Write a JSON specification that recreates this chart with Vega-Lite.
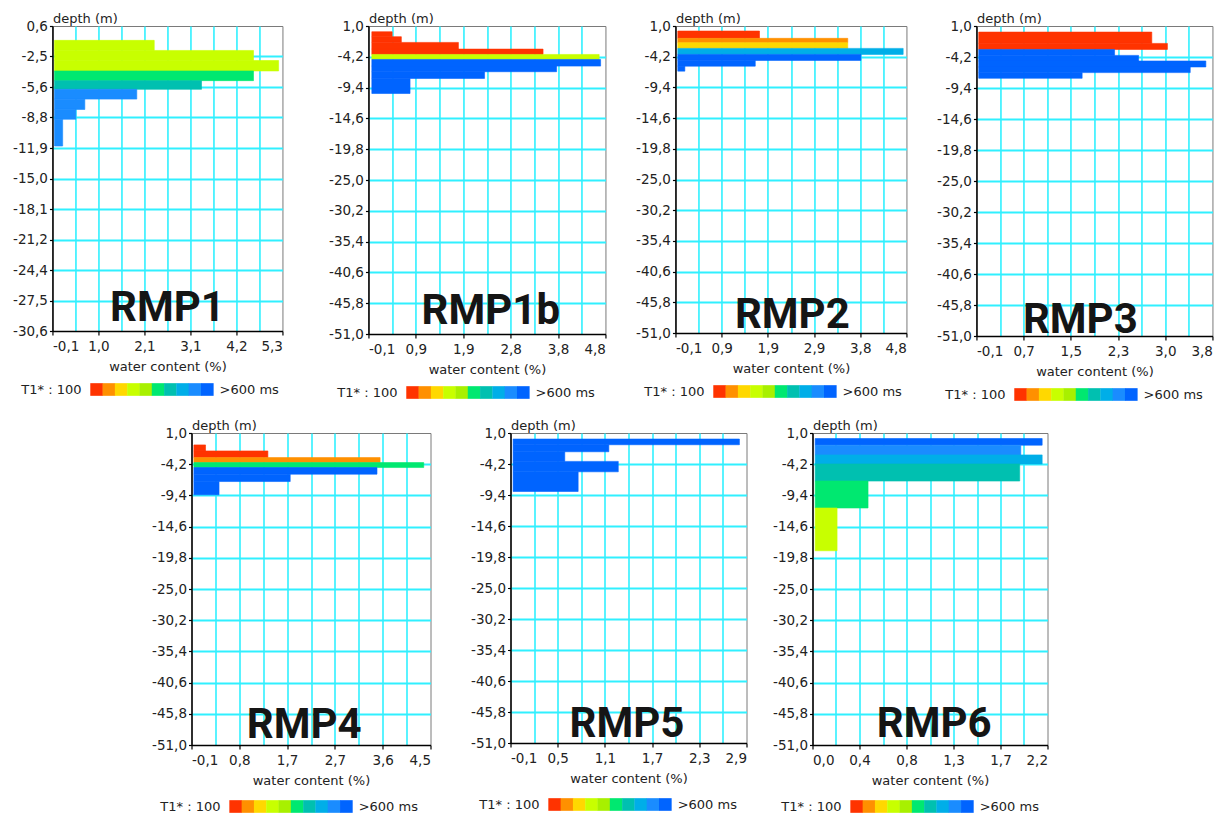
{
  "$schema": "https://vega.github.io/schema/vega-lite/v6.json",
  "padding": {"left": 12, "top": 11, "right": 0, "bottom": 0},
  "background": "white",
  "config": {
    "view": {"stroke": "#7a7a7a", "strokeWidth": 1},
    "axis": {
      "labelFont": "DejaVu Sans", "labelFontSize": 13.5, "labelColor": "#222",
      "titleFont": "DejaVu Sans", "titleFontSize": 13, "titleFontWeight": "normal", "titleColor": "#222",
      "domainColor": "#000", "domainWidth": 1.5, "tickColor": "#000", "tickWidth": 1.2,
      "gridColor": "#30f0ff", "gridOpacity": 1, "labelOverlap": false, "labelBound": false
    },
    "axisX": {"tickSize": 4, "labelPadding": 4, "titlePadding": 8, "gridWidth": 1.6},
    "axisY": {"tickSize": 3, "labelPadding": 2, "gridWidth": 2, "titleAngle": 0, "titleAlign": "left", "titleX": 0, "titleY": -4, "titleBaseline": "alphabetic"}
  },
  "datasets": {
    "bars": [
      {"p": "RMP1", "top": -0.87, "bot": -1.90, "v": 2.29, "c": 4},
      {"p": "RMP1", "top": -1.90, "bot": -2.93, "v": 4.62, "c": 4},
      {"p": "RMP1", "top": -2.93, "bot": -4.00, "v": 5.21, "c": 4},
      {"p": "RMP1", "top": -4.00, "bot": -4.99, "v": 4.62, "c": 6},
      {"p": "RMP1", "top": -4.99, "bot": -5.88, "v": 3.40, "c": 7},
      {"p": "RMP1", "top": -5.88, "bot": -6.88, "v": 1.88, "c": 9},
      {"p": "RMP1", "top": -6.88, "bot": -7.94, "v": 0.66, "c": 9},
      {"p": "RMP1", "top": -7.94, "bot": -8.94, "v": 0.45, "c": 9},
      {"p": "RMP1", "top": -8.94, "bot": -11.68, "v": 0.14, "c": 9},
      {"p": "RMP1b", "top": 0.03, "bot": -0.81, "v": 0.39, "c": 1},
      {"p": "RMP1b", "top": -0.81, "bot": -1.77, "v": 0.58, "c": 1},
      {"p": "RMP1b", "top": -1.77, "bot": -2.90, "v": 1.76, "c": 1},
      {"p": "RMP1b", "top": -2.90, "bot": -3.80, "v": 3.51, "c": 1},
      {"p": "RMP1b", "top": -3.80, "bot": -4.65, "v": 4.67, "c": 4},
      {"p": "RMP1b", "top": -4.65, "bot": -5.77, "v": 4.70, "c": 10},
      {"p": "RMP1b", "top": -5.77, "bot": -6.72, "v": 3.79, "c": 10},
      {"p": "RMP1b", "top": -6.72, "bot": -7.85, "v": 2.30, "c": 10},
      {"p": "RMP1b", "top": -7.85, "bot": -10.40, "v": 0.76, "c": 10},
      {"p": "RMP2", "top": 0.15, "bot": -1.09, "v": 1.69, "c": 1},
      {"p": "RMP2", "top": -1.09, "bot": -1.82, "v": 3.57, "c": 2},
      {"p": "RMP2", "top": -1.82, "bot": -2.79, "v": 3.57, "c": 3},
      {"p": "RMP2", "top": -2.79, "bot": -3.81, "v": 4.75, "c": 8},
      {"p": "RMP2", "top": -3.81, "bot": -4.83, "v": 3.85, "c": 10},
      {"p": "RMP2", "top": -4.83, "bot": -5.80, "v": 1.60, "c": 10},
      {"p": "RMP2", "top": -5.80, "bot": -6.65, "v": 0.10, "c": 10},
      {"p": "RMP3", "top": -0.02, "bot": -1.92, "v": 2.82, "c": 1},
      {"p": "RMP3", "top": -1.92, "bot": -2.93, "v": 3.08, "c": 1},
      {"p": "RMP3", "top": -2.93, "bot": -3.93, "v": 2.20, "c": 10},
      {"p": "RMP3", "top": -3.93, "bot": -4.87, "v": 2.60, "c": 10},
      {"p": "RMP3", "top": -4.87, "bot": -5.87, "v": 3.72, "c": 10},
      {"p": "RMP3", "top": -5.87, "bot": -6.82, "v": 3.46, "c": 10},
      {"p": "RMP3", "top": -6.82, "bot": -7.77, "v": 1.66, "c": 10},
      {"p": "RMP4", "top": -0.99, "bot": -1.99, "v": 0.17, "c": 1},
      {"p": "RMP4", "top": -1.99, "bot": -3.10, "v": 1.37, "c": 1},
      {"p": "RMP4", "top": -3.10, "bot": -3.93, "v": 3.53, "c": 2},
      {"p": "RMP4", "top": -3.93, "bot": -4.76, "v": 4.37, "c": 6},
      {"p": "RMP4", "top": -4.76, "bot": -5.86, "v": 3.47, "c": 10},
      {"p": "RMP4", "top": -5.86, "bot": -7.09, "v": 1.80, "c": 10},
      {"p": "RMP4", "top": -7.09, "bot": -9.30, "v": 0.43, "c": 10},
      {"p": "RMP5", "top": -0.01, "bot": -0.97, "v": 2.81, "c": 10},
      {"p": "RMP5", "top": -0.97, "bot": -2.15, "v": 1.15, "c": 10},
      {"p": "RMP5", "top": -2.15, "bot": -3.76, "v": 0.59, "c": 10},
      {"p": "RMP5", "top": -3.76, "bot": -5.51, "v": 1.27, "c": 10},
      {"p": "RMP5", "top": -5.51, "bot": -8.81, "v": 0.76, "c": 10},
      {"p": "RMP6", "top": 0.08, "bot": -1.03, "v": 2.15, "c": 10},
      {"p": "RMP6", "top": -1.03, "bot": -2.65, "v": 1.95, "c": 9},
      {"p": "RMP6", "top": -2.65, "bot": -4.16, "v": 2.15, "c": 8},
      {"p": "RMP6", "top": -4.16, "bot": -7.01, "v": 1.94, "c": 7},
      {"p": "RMP6", "top": -7.01, "bot": -11.50, "v": 0.52, "c": 6},
      {"p": "RMP6", "top": -11.50, "bot": -18.63, "v": 0.23, "c": 4}
    ],
    "names": [{"p": "RMP1"}, {"p": "RMP1b"}, {"p": "RMP2"}, {"p": "RMP3"}, {"p": "RMP4"}, {"p": "RMP5"}, {"p": "RMP6"}],
    "swatch": [{"c": 1}, {"c": 2}, {"c": 3}, {"c": 4}, {"c": 5}, {"c": 6}, {"c": 7}, {"c": 8}, {"c": 9}, {"c": 10}],
    "keytext": [{"side": "l", "t": "T1* : 100"}, {"side": "r", "t": ">600 ms"}]
  },
  "vconcat": [
    {
      "spacing": 43,
      "hconcat": [
        {
          "bounds": "flush", "spacing": 52,
          "vconcat": [
            {
              "width": 230, "height": 305,
              "layer": [
                {
                  "data": {"name": "bars"},
                  "transform": [{"filter": "datum.p == 'RMP1'"}],
                  "mark": {"type": "rect", "strokeWidth": 0.6},
                  "encoding": {
                    "x": {"field": "v", "type": "quantitative", "scale": {"domain": [-0.1, 5.3], "nice": false, "zero": false},
                      "axis": {"title": "water content (%)", "tickCount": 30, "values": [-0.1, 0.44, 0.98, 1.52, 2.06, 2.6, 3.14, 3.68, 4.22, 4.76, 5.3],
                        "labelExpr": "['-0,1','','1,0','','2,1','','3,1','','4,2','','5,3'][indexof([-0.1,0.44,0.98,1.52,2.06,2.6,3.14,3.68,4.22,4.76,5.3], datum.value)]",
                        "tickOpacity": {"condition": {"test": "indexof([-0.1,0.98,2.06,3.14,4.22,5.3], datum.value) < 0", "value": 0}, "value": 1},
                        "gridColor": {"condition": {"test": "datum.value == -0.1 || datum.value == 5.3", "value": "transparent"}, "value": "#30f0ff"}}},
                    "x2": {"datum": -0.053},
                    "y": {"field": "top", "type": "quantitative", "scale": {"domain": [-30.6, 0.6], "nice": false, "zero": false},
                      "axis": {"title": "depth (m)", "tickCount": 30, "values": [0.6, -2.52, -5.64, -8.76, -11.88, -15, -18.12, -21.24, -24.36, -27.48, -30.6],
                        "labelExpr": "replace(replace(format(datum.value, '.1f'), '.', ','), '\u2212', '-')",
                        "gridColor": {"condition": {"test": "datum.value == 0.6 || datum.value == -30.6", "value": "transparent"}, "value": "#30f0ff"}}},
                    "y2": {"field": "bot"},
                    "color": {"field": "c", "type": "ordinal", "legend": null, "scale": {"domain": [1, 2, 3, 4, 5, 6, 7, 8, 9, 10], "range": ["#ff3300", "#ff9000", "#ffd800", "#c8ff00", "#a8f000", "#00e870", "#00c0b0", "#00aee8", "#1a8cff", "#0064ff"]}},
                    "stroke": {"field": "c", "type": "ordinal", "legend": null, "scale": {"domain": [1, 2, 3, 4, 5, 6, 7, 8, 9, 10], "range": ["#ff3300", "#ff9000", "#ffd800", "#c8ff00", "#a8f000", "#00e870", "#00c0b0", "#00aee8", "#1a8cff", "#0064ff"]}}
                  }
                },
                {
                  "data": {"name": "names"},
                  "transform": [{"filter": "datum.p == 'RMP1'"}],
                  "mark": {"type": "text", "font": "Roboto", "fontSize": 42, "fontWeight": "bold", "color": "#151515", "align": "center", "baseline": "alphabetic"},
                  "encoding": {"text": {"field": "p"}, "x": {"datum": 2.6}, "y": {"datum": -29.58}}
                }
              ]
            },
            {
              "width": 230, "height": 13, "view": {"stroke": null},
              "layer": [
                {"data": {"name": "swatch"}, "mark": {"type": "square", "size": 160, "opacity": 1},
                  "encoding": {"x": {"field": "c", "type": "quantitative", "scale": {"domain": [-2.59, 16.11], "nice": false, "zero": false}, "axis": null},
                    "color": {"field": "c", "type": "ordinal", "legend": null, "scale": {"domain": [1, 2, 3, 4, 5, 6, 7, 8, 9, 10], "range": ["#ff3300", "#ff9000", "#ffd800", "#c8ff00", "#a8f000", "#00e870", "#00c0b0", "#00aee8", "#1a8cff", "#0064ff"]}}}},
                {"data": {"name": "keytext"}, "transform": [{"filter": "datum.side == 'l'"}],
                  "mark": {"type": "text", "align": "right", "baseline": "middle", "font": "DejaVu Sans", "fontSize": 13, "color": "#222"},
                  "encoding": {"text": {"field": "t"}, "x": {"datum": -0.23}}},
                {"data": {"name": "keytext"}, "transform": [{"filter": "datum.side == 'r'"}],
                  "mark": {"type": "text", "align": "left", "baseline": "middle", "font": "DejaVu Sans", "fontSize": 13, "color": "#222"},
                  "encoding": {"text": {"field": "t"}, "x": {"datum": 11}}}
              ]
            }
          ]
        },
        {
          "spacing": 27,
          "hconcat": [
            {
              "bounds": "flush", "spacing": 52,
              "vconcat": [
                {
                  "width": 237, "height": 308,
                  "layer": [
                    {
                      "data": {"name": "bars"},
                      "transform": [{"filter": "datum.p == 'RMP1b'"}],
                      "mark": {"type": "rect", "strokeWidth": 0.6},
                      "encoding": {
                        "x": {"field": "v", "type": "quantitative", "scale": {"domain": [-0.1, 4.8], "nice": false, "zero": false},
                          "axis": {"title": "water content (%)", "tickCount": 30, "values": [-0.1, 0.39, 0.88, 1.37, 1.86, 2.35, 2.84, 3.33, 3.82, 4.31, 4.8],
                            "labelExpr": "['-0,1','','0,9','','1,9','','2,8','','3,8','','4,8'][indexof([-0.1,0.39,0.88,1.37,1.86,2.35,2.84,3.33,3.82,4.31,4.8], datum.value)]",
                            "tickOpacity": {"condition": {"test": "indexof([-0.1,0.88,1.86,2.84,3.82,4.8], datum.value) < 0", "value": 0}, "value": 1},
                            "gridColor": {"condition": {"test": "datum.value == -0.1 || datum.value == 4.8", "value": "transparent"}, "value": "#30f0ff"}}},
                        "x2": {"datum": -0.03},
                        "y": {"field": "top", "type": "quantitative", "scale": {"domain": [-51, 1], "nice": false, "zero": false},
                          "axis": {"title": "depth (m)", "tickCount": 30, "values": [1, -4.2, -9.4, -14.6, -19.8, -25, -30.2, -35.4, -40.6, -45.8, -51],
                            "labelExpr": "replace(replace(format(datum.value, '.1f'), '.', ','), '\u2212', '-')",
                            "gridColor": {"condition": {"test": "datum.value == 1 || datum.value == -51", "value": "transparent"}, "value": "#30f0ff"}}},
                        "y2": {"field": "bot"},
                        "color": {"field": "c", "type": "ordinal", "legend": null, "scale": {"domain": [1, 2, 3, 4, 5, 6, 7, 8, 9, 10], "range": ["#ff3300", "#ff9000", "#ffd800", "#c8ff00", "#a8f000", "#00e870", "#00c0b0", "#00aee8", "#1a8cff", "#0064ff"]}},
                        "stroke": {"field": "c", "type": "ordinal", "legend": null, "scale": {"domain": [1, 2, 3, 4, 5, 6, 7, 8, 9, 10], "range": ["#ff3300", "#ff9000", "#ffd800", "#c8ff00", "#a8f000", "#00e870", "#00c0b0", "#00aee8", "#1a8cff", "#0064ff"]}}
                      }
                    },
                    {
                      "data": {"name": "names"},
                      "transform": [{"filter": "datum.p == 'RMP1b'"}],
                      "mark": {"type": "text", "font": "Roboto", "fontSize": 42, "fontWeight": "bold", "color": "#151515", "align": "center", "baseline": "alphabetic"},
                      "encoding": {"text": {"field": "p"}, "x": {"datum": 2.43}, "y": {"datum": -49.31}}
                    }
                  ]
                },
                {
                  "width": 237, "height": 13, "view": {"stroke": null},
                  "layer": [
                    {"data": {"name": "swatch"}, "mark": {"type": "square", "size": 160, "opacity": 1},
                      "encoding": {"x": {"field": "c", "type": "quantitative", "scale": {"domain": [-2.59, 16.68], "nice": false, "zero": false}, "axis": null},
                        "color": {"field": "c", "type": "ordinal", "legend": null, "scale": {"domain": [1, 2, 3, 4, 5, 6, 7, 8, 9, 10], "range": ["#ff3300", "#ff9000", "#ffd800", "#c8ff00", "#a8f000", "#00e870", "#00c0b0", "#00aee8", "#1a8cff", "#0064ff"]}}}},
                    {"data": {"name": "keytext"}, "transform": [{"filter": "datum.side == 'l'"}],
                      "mark": {"type": "text", "align": "right", "baseline": "middle", "font": "DejaVu Sans", "fontSize": 13, "color": "#222"},
                      "encoding": {"text": {"field": "t"}, "x": {"datum": -0.23}}},
                    {"data": {"name": "keytext"}, "transform": [{"filter": "datum.side == 'r'"}],
                      "mark": {"type": "text", "align": "left", "baseline": "middle", "font": "DejaVu Sans", "fontSize": 13, "color": "#222"},
                      "encoding": {"text": {"field": "t"}, "x": {"datum": 11}}}
                  ]
                }
              ]
            },
            {
              "bounds": "flush", "spacing": 52,
              "vconcat": [
                {
                  "width": 231, "height": 307,
                  "layer": [
                    {
                      "data": {"name": "bars"},
                      "transform": [{"filter": "datum.p == 'RMP2'"}],
                      "mark": {"type": "rect", "strokeWidth": 0.6},
                      "encoding": {
                        "x": {"field": "v", "type": "quantitative", "scale": {"domain": [-0.1, 4.82], "nice": false, "zero": false},
                          "axis": {"title": "water content (%)", "tickCount": 30, "values": [-0.1, 0.392, 0.884, 1.376, 1.868, 2.36, 2.852, 3.344, 3.836, 4.328, 4.82],
                            "labelExpr": "['-0,1','','0,9','','1,9','','2,9','','3,8','','4,8'][indexof([-0.1,0.392,0.884,1.376,1.868,2.36,2.852,3.344,3.836,4.328,4.82], datum.value)]",
                            "tickOpacity": {"condition": {"test": "indexof([-0.1,0.884,1.868,2.852,3.836,4.82], datum.value) < 0", "value": 0}, "value": 1},
                            "gridColor": {"condition": {"test": "datum.value == -0.1 || datum.value == 4.82", "value": "transparent"}, "value": "#30f0ff"}}},
                        "x2": {"datum": -0.05},
                        "y": {"field": "top", "type": "quantitative", "scale": {"domain": [-51, 1], "nice": false, "zero": false},
                          "axis": {"title": "depth (m)", "tickCount": 30, "values": [1, -4.2, -9.4, -14.6, -19.8, -25, -30.2, -35.4, -40.6, -45.8, -51],
                            "labelExpr": "replace(replace(format(datum.value, '.1f'), '.', ','), '\u2212', '-')",
                            "gridColor": {"condition": {"test": "datum.value == 1 || datum.value == -51", "value": "transparent"}, "value": "#30f0ff"}}},
                        "y2": {"field": "bot"},
                        "color": {"field": "c", "type": "ordinal", "legend": null, "scale": {"domain": [1, 2, 3, 4, 5, 6, 7, 8, 9, 10], "range": ["#ff3300", "#ff9000", "#ffd800", "#c8ff00", "#a8f000", "#00e870", "#00c0b0", "#00aee8", "#1a8cff", "#0064ff"]}},
                        "stroke": {"field": "c", "type": "ordinal", "legend": null, "scale": {"domain": [1, 2, 3, 4, 5, 6, 7, 8, 9, 10], "range": ["#ff3300", "#ff9000", "#ffd800", "#c8ff00", "#a8f000", "#00e870", "#00c0b0", "#00aee8", "#1a8cff", "#0064ff"]}}
                      }
                    },
                    {
                      "data": {"name": "names"},
                      "transform": [{"filter": "datum.p == 'RMP2'"}],
                      "mark": {"type": "text", "font": "Roboto", "fontSize": 42, "fontWeight": "bold", "color": "#151515", "align": "center", "baseline": "alphabetic"},
                      "encoding": {"text": {"field": "p"}, "x": {"datum": 2.39}, "y": {"datum": -50.2}}
                    }
                  ]
                },
                {
                  "width": 231, "height": 13, "view": {"stroke": null},
                  "layer": [
                    {"data": {"name": "swatch"}, "mark": {"type": "square", "size": 160, "opacity": 1},
                      "encoding": {"x": {"field": "c", "type": "quantitative", "scale": {"domain": [-2.59, 16.19], "nice": false, "zero": false}, "axis": null},
                        "color": {"field": "c", "type": "ordinal", "legend": null, "scale": {"domain": [1, 2, 3, 4, 5, 6, 7, 8, 9, 10], "range": ["#ff3300", "#ff9000", "#ffd800", "#c8ff00", "#a8f000", "#00e870", "#00c0b0", "#00aee8", "#1a8cff", "#0064ff"]}}}},
                    {"data": {"name": "keytext"}, "transform": [{"filter": "datum.side == 'l'"}],
                      "mark": {"type": "text", "align": "right", "baseline": "middle", "font": "DejaVu Sans", "fontSize": 13, "color": "#222"},
                      "encoding": {"text": {"field": "t"}, "x": {"datum": -0.23}}},
                    {"data": {"name": "keytext"}, "transform": [{"filter": "datum.side == 'r'"}],
                      "mark": {"type": "text", "align": "left", "baseline": "middle", "font": "DejaVu Sans", "fontSize": 13, "color": "#222"},
                      "encoding": {"text": {"field": "t"}, "x": {"datum": 11}}}
                  ]
                }
              ]
            },
            {
              "bounds": "flush", "spacing": 52,
              "vconcat": [
                {
                  "width": 236, "height": 310,
                  "layer": [
                    {
                      "data": {"name": "bars"},
                      "transform": [{"filter": "datum.p == 'RMP3'"}],
                      "mark": {"type": "rect", "strokeWidth": 0.6},
                      "encoding": {
                        "x": {"field": "v", "type": "quantitative", "scale": {"domain": [-0.1, 3.83], "nice": false, "zero": false},
                          "axis": {"title": "water content (%)", "tickCount": 30, "values": [-0.1, 0.293, 0.686, 1.079, 1.472, 1.865, 2.258, 2.651, 3.044, 3.437, 3.83],
                            "labelExpr": "['-0,1','','0,7','','1,5','','2,3','','3,0','','3,8'][indexof([-0.1,0.293,0.686,1.079,1.472,1.865,2.258,2.651,3.044,3.437,3.83], datum.value)]",
                            "tickOpacity": {"condition": {"test": "indexof([-0.1,0.686,1.472,2.258,3.044,3.83], datum.value) < 0", "value": 0}, "value": 1},
                            "gridColor": {"condition": {"test": "datum.value == -0.1 || datum.value == 3.83", "value": "transparent"}, "value": "#30f0ff"}}},
                        "x2": {"datum": -0.062},
                        "y": {"field": "top", "type": "quantitative", "scale": {"domain": [-51, 1], "nice": false, "zero": false},
                          "axis": {"title": "depth (m)", "tickCount": 30, "values": [1, -4.2, -9.4, -14.6, -19.8, -25, -30.2, -35.4, -40.6, -45.8, -51],
                            "labelExpr": "replace(replace(format(datum.value, '.1f'), '.', ','), '\u2212', '-')",
                            "gridColor": {"condition": {"test": "datum.value == 1 || datum.value == -51", "value": "transparent"}, "value": "#30f0ff"}}},
                        "y2": {"field": "bot"},
                        "color": {"field": "c", "type": "ordinal", "legend": null, "scale": {"domain": [1, 2, 3, 4, 5, 6, 7, 8, 9, 10], "range": ["#ff3300", "#ff9000", "#ffd800", "#c8ff00", "#a8f000", "#00e870", "#00c0b0", "#00aee8", "#1a8cff", "#0064ff"]}},
                        "stroke": {"field": "c", "type": "ordinal", "legend": null, "scale": {"domain": [1, 2, 3, 4, 5, 6, 7, 8, 9, 10], "range": ["#ff3300", "#ff9000", "#ffd800", "#c8ff00", "#a8f000", "#00e870", "#00c0b0", "#00aee8", "#1a8cff", "#0064ff"]}}
                      }
                    },
                    {
                      "data": {"name": "names"},
                      "transform": [{"filter": "datum.p == 'RMP3'"}],
                      "mark": {"type": "text", "font": "Roboto", "fontSize": 42, "fontWeight": "bold", "color": "#151515", "align": "center", "baseline": "alphabetic"},
                      "encoding": {"text": {"field": "p"}, "x": {"datum": 1.63}, "y": {"datum": -50.56}}
                    }
                  ]
                },
                {
                  "width": 236, "height": 13, "view": {"stroke": null},
                  "layer": [
                    {"data": {"name": "swatch"}, "mark": {"type": "square", "size": 160, "opacity": 1},
                      "encoding": {"x": {"field": "c", "type": "quantitative", "scale": {"domain": [-2.59, 16.6], "nice": false, "zero": false}, "axis": null},
                        "color": {"field": "c", "type": "ordinal", "legend": null, "scale": {"domain": [1, 2, 3, 4, 5, 6, 7, 8, 9, 10], "range": ["#ff3300", "#ff9000", "#ffd800", "#c8ff00", "#a8f000", "#00e870", "#00c0b0", "#00aee8", "#1a8cff", "#0064ff"]}}}},
                    {"data": {"name": "keytext"}, "transform": [{"filter": "datum.side == 'l'"}],
                      "mark": {"type": "text", "align": "right", "baseline": "middle", "font": "DejaVu Sans", "fontSize": 13, "color": "#222"},
                      "encoding": {"text": {"field": "t"}, "x": {"datum": -0.23}}},
                    {"data": {"name": "keytext"}, "transform": [{"filter": "datum.side == 'r'"}],
                      "mark": {"type": "text", "align": "left", "baseline": "middle", "font": "DejaVu Sans", "fontSize": 13, "color": "#222"},
                      "encoding": {"text": {"field": "t"}, "x": {"datum": 11}}}
                  ]
                }
              ]
            }
          ]
        }
      ]
    },
    {
      "spacing": 37,
      "hconcat": [
        {
          "bounds": "flush", "spacing": 55,
          "vconcat": [
            {
              "width": 239, "height": 312,
              "layer": [
                {
                  "data": {"name": "bars"},
                  "transform": [{"filter": "datum.p == 'RMP4'"}],
                  "mark": {"type": "rect", "strokeWidth": 0.6},
                  "encoding": {
                    "x": {"field": "v", "type": "quantitative", "scale": {"domain": [-0.1, 4.5], "nice": false, "zero": false},
                      "axis": {"title": "water content (%)", "tickCount": 30, "values": [-0.1, 0.36, 0.82, 1.28, 1.74, 2.2, 2.66, 3.12, 3.58, 4.04, 4.5],
                        "labelExpr": "['-0,1','','0,8','','1,7','','2,7','','3,6','','4,5'][indexof([-0.1,0.36,0.82,1.28,1.74,2.2,2.66,3.12,3.58,4.04,4.5], datum.value)]",
                        "tickOpacity": {"condition": {"test": "indexof([-0.1,0.82,1.74,2.66,3.58,4.5], datum.value) < 0", "value": 0}, "value": 1},
                        "gridColor": {"condition": {"test": "datum.value == -0.1 || datum.value == 4.5", "value": "transparent"}, "value": "#30f0ff"}}},
                    "x2": {"datum": -0.054},
                    "y": {"field": "top", "type": "quantitative", "scale": {"domain": [-51, 1], "nice": false, "zero": false},
                      "axis": {"title": "depth (m)", "tickCount": 30, "values": [1, -4.2, -9.4, -14.6, -19.8, -25, -30.2, -35.4, -40.6, -45.8, -51],
                        "labelExpr": "replace(replace(format(datum.value, '.1f'), '.', ','), '\u2212', '-')",
                        "gridColor": {"condition": {"test": "datum.value == 1 || datum.value == -51", "value": "transparent"}, "value": "#30f0ff"}}},
                    "y2": {"field": "bot"},
                    "color": {"field": "c", "type": "ordinal", "legend": null, "scale": {"domain": [1, 2, 3, 4, 5, 6, 7, 8, 9, 10], "range": ["#ff3300", "#ff9000", "#ffd800", "#c8ff00", "#a8f000", "#00e870", "#00c0b0", "#00aee8", "#1a8cff", "#0064ff"]}},
                    "stroke": {"field": "c", "type": "ordinal", "legend": null, "scale": {"domain": [1, 2, 3, 4, 5, 6, 7, 8, 9, 10], "range": ["#ff3300", "#ff9000", "#ffd800", "#c8ff00", "#a8f000", "#00e870", "#00c0b0", "#00aee8", "#1a8cff", "#0064ff"]}}
                  }
                },
                {
                  "data": {"name": "names"},
                  "transform": [{"filter": "datum.p == 'RMP4'"}],
                  "mark": {"type": "text", "font": "Roboto", "fontSize": 42, "fontWeight": "bold", "color": "#151515", "align": "center", "baseline": "alphabetic"},
                  "encoding": {"text": {"field": "p"}, "x": {"datum": 2.07}, "y": {"datum": -49.88}}
                }
              ]
            },
            {
              "width": 239, "height": 13, "view": {"stroke": null},
              "layer": [
                {"data": {"name": "swatch"}, "mark": {"type": "square", "size": 160, "opacity": 1},
                  "encoding": {"x": {"field": "c", "type": "quantitative", "scale": {"domain": [-2.59, 16.84], "nice": false, "zero": false}, "axis": null},
                    "color": {"field": "c", "type": "ordinal", "legend": null, "scale": {"domain": [1, 2, 3, 4, 5, 6, 7, 8, 9, 10], "range": ["#ff3300", "#ff9000", "#ffd800", "#c8ff00", "#a8f000", "#00e870", "#00c0b0", "#00aee8", "#1a8cff", "#0064ff"]}}}},
                {"data": {"name": "keytext"}, "transform": [{"filter": "datum.side == 'l'"}],
                  "mark": {"type": "text", "align": "right", "baseline": "middle", "font": "DejaVu Sans", "fontSize": 13, "color": "#222"},
                  "encoding": {"text": {"field": "t"}, "x": {"datum": -0.23}}},
                {"data": {"name": "keytext"}, "transform": [{"filter": "datum.side == 'r'"}],
                  "mark": {"type": "text", "align": "left", "baseline": "middle", "font": "DejaVu Sans", "fontSize": 13, "color": "#222"},
                  "encoding": {"text": {"field": "t"}, "x": {"datum": 11}}}
              ]
            }
          ]
        },
        {
          "spacing": 23,
          "hconcat": [
            {
              "bounds": "flush", "spacing": 55,
              "vconcat": [
                {
                  "width": 236, "height": 310,
                  "layer": [
                    {
                      "data": {"name": "bars"},
                      "transform": [{"filter": "datum.p == 'RMP5'"}],
                      "mark": {"type": "rect", "strokeWidth": 0.6},
                      "encoding": {
                        "x": {"field": "v", "type": "quantitative", "scale": {"domain": [-0.1, 2.9], "nice": false, "zero": false},
                          "axis": {"title": "water content (%)", "tickCount": 30, "values": [-0.1, 0.2, 0.5, 0.8, 1.1, 1.4, 1.7, 2, 2.3, 2.6, 2.9],
                            "labelExpr": "['-0,1','','0,5','','1,1','','1,7','','2,3','','2,9'][indexof([-0.1,0.2,0.5,0.8,1.1,1.4,1.7,2,2.3,2.6,2.9], datum.value)]",
                            "tickOpacity": {"condition": {"test": "indexof([-0.1,0.5,1.1,1.7,2.3,2.9], datum.value) < 0", "value": 0}, "value": 1},
                            "gridColor": {"condition": {"test": "datum.value == -0.1 || datum.value == 2.9", "value": "transparent"}, "value": "#30f0ff"}}},
                        "x2": {"datum": -0.067},
                        "y": {"field": "top", "type": "quantitative", "scale": {"domain": [-51, 1], "nice": false, "zero": false},
                          "axis": {"title": "depth (m)", "tickCount": 30, "values": [1, -4.2, -9.4, -14.6, -19.8, -25, -30.2, -35.4, -40.6, -45.8, -51],
                            "labelExpr": "replace(replace(format(datum.value, '.1f'), '.', ','), '\u2212', '-')",
                            "gridColor": {"condition": {"test": "datum.value == 1 || datum.value == -51", "value": "transparent"}, "value": "#30f0ff"}}},
                        "y2": {"field": "bot"},
                        "color": {"field": "c", "type": "ordinal", "legend": null, "scale": {"domain": [1, 2, 3, 4, 5, 6, 7, 8, 9, 10], "range": ["#ff3300", "#ff9000", "#ffd800", "#c8ff00", "#a8f000", "#00e870", "#00c0b0", "#00aee8", "#1a8cff", "#0064ff"]}},
                        "stroke": {"field": "c", "type": "ordinal", "legend": null, "scale": {"domain": [1, 2, 3, 4, 5, 6, 7, 8, 9, 10], "range": ["#ff3300", "#ff9000", "#ffd800", "#c8ff00", "#a8f000", "#00e870", "#00c0b0", "#00aee8", "#1a8cff", "#0064ff"]}}
                      }
                    },
                    {
                      "data": {"name": "names"},
                      "transform": [{"filter": "datum.p == 'RMP5'"}],
                      "mark": {"type": "text", "font": "Roboto", "fontSize": 42, "fontWeight": "bold", "color": "#151515", "align": "center", "baseline": "alphabetic"},
                      "encoding": {"text": {"field": "p"}, "x": {"datum": 1.38}, "y": {"datum": -49.94}}
                    }
                  ]
                },
                {
                  "width": 236, "height": 13, "view": {"stroke": null},
                  "layer": [
                    {"data": {"name": "swatch"}, "mark": {"type": "square", "size": 160, "opacity": 1},
                      "encoding": {"x": {"field": "c", "type": "quantitative", "scale": {"domain": [-2.59, 16.6], "nice": false, "zero": false}, "axis": null},
                        "color": {"field": "c", "type": "ordinal", "legend": null, "scale": {"domain": [1, 2, 3, 4, 5, 6, 7, 8, 9, 10], "range": ["#ff3300", "#ff9000", "#ffd800", "#c8ff00", "#a8f000", "#00e870", "#00c0b0", "#00aee8", "#1a8cff", "#0064ff"]}}}},
                    {"data": {"name": "keytext"}, "transform": [{"filter": "datum.side == 'l'"}],
                      "mark": {"type": "text", "align": "right", "baseline": "middle", "font": "DejaVu Sans", "fontSize": 13, "color": "#222"},
                      "encoding": {"text": {"field": "t"}, "x": {"datum": -0.23}}},
                    {"data": {"name": "keytext"}, "transform": [{"filter": "datum.side == 'r'"}],
                      "mark": {"type": "text", "align": "left", "baseline": "middle", "font": "DejaVu Sans", "fontSize": 13, "color": "#222"},
                      "encoding": {"text": {"field": "t"}, "x": {"datum": 11}}}
                  ]
                }
              ]
            },
            {
              "bounds": "flush", "spacing": 55,
              "vconcat": [
                {
                  "width": 235, "height": 312,
                  "layer": [
                    {
                      "data": {"name": "bars"},
                      "transform": [{"filter": "datum.p == 'RMP6'"}],
                      "mark": {"type": "rect", "strokeWidth": 0.6},
                      "encoding": {
                        "x": {"field": "v", "type": "quantitative", "scale": {"domain": [0, 2.2], "nice": false, "zero": false},
                          "axis": {"title": "water content (%)", "tickCount": 30, "values": [0, 0.22, 0.44, 0.66, 0.88, 1.1, 1.32, 1.54, 1.76, 1.98, 2.2],
                            "labelExpr": "['0,0','','0,4','','0,8','','1,3','','1,7','','2,2'][indexof([0,0.22,0.44,0.66,0.88,1.1,1.32,1.54,1.76,1.98,2.2], datum.value)]",
                            "tickOpacity": {"condition": {"test": "indexof([0,0.44,0.88,1.32,1.76,2.2], datum.value) < 0", "value": 0}, "value": 1},
                            "gridColor": {"condition": {"test": "datum.value == 0 || datum.value == 2.2", "value": "transparent"}, "value": "#30f0ff"}}},
                        "x2": {"datum": 0.025},
                        "y": {"field": "top", "type": "quantitative", "scale": {"domain": [-51, 1], "nice": false, "zero": false},
                          "axis": {"title": "depth (m)", "tickCount": 30, "values": [1, -4.2, -9.4, -14.6, -19.8, -25, -30.2, -35.4, -40.6, -45.8, -51],
                            "labelExpr": "replace(replace(format(datum.value, '.1f'), '.', ','), '\u2212', '-')",
                            "gridColor": {"condition": {"test": "datum.value == 1 || datum.value == -51", "value": "transparent"}, "value": "#30f0ff"}}},
                        "y2": {"field": "bot"},
                        "color": {"field": "c", "type": "ordinal", "legend": null, "scale": {"domain": [1, 2, 3, 4, 5, 6, 7, 8, 9, 10], "range": ["#ff3300", "#ff9000", "#ffd800", "#c8ff00", "#a8f000", "#00e870", "#00c0b0", "#00aee8", "#1a8cff", "#0064ff"]}},
                        "stroke": {"field": "c", "type": "ordinal", "legend": null, "scale": {"domain": [1, 2, 3, 4, 5, 6, 7, 8, 9, 10], "range": ["#ff3300", "#ff9000", "#ffd800", "#c8ff00", "#a8f000", "#00e870", "#00c0b0", "#00aee8", "#1a8cff", "#0064ff"]}}
                      }
                    },
                    {
                      "data": {"name": "names"},
                      "transform": [{"filter": "datum.p == 'RMP6'"}],
                      "mark": {"type": "text", "font": "Roboto", "fontSize": 42, "fontWeight": "bold", "color": "#151515", "align": "center", "baseline": "alphabetic"},
                      "encoding": {"text": {"field": "p"}, "x": {"datum": 1.14}, "y": {"datum": -49.62}}
                    }
                  ]
                },
                {
                  "width": 262, "height": 13, "view": {"stroke": null, "fill": "transparent"},
                  "layer": [
                    {"data": {"name": "swatch"}, "mark": {"type": "square", "size": 160, "opacity": 1},
                      "encoding": {"x": {"field": "c", "type": "quantitative", "scale": {"domain": [-2.59, 18.71], "nice": false, "zero": false}, "axis": null},
                        "color": {"field": "c", "type": "ordinal", "legend": null, "scale": {"domain": [1, 2, 3, 4, 5, 6, 7, 8, 9, 10], "range": ["#ff3300", "#ff9000", "#ffd800", "#c8ff00", "#a8f000", "#00e870", "#00c0b0", "#00aee8", "#1a8cff", "#0064ff"]}}}},
                    {"data": {"name": "keytext"}, "transform": [{"filter": "datum.side == 'l'"}],
                      "mark": {"type": "text", "align": "right", "baseline": "middle", "font": "DejaVu Sans", "fontSize": 13, "color": "#222"},
                      "encoding": {"text": {"field": "t"}, "x": {"datum": -0.23}}},
                    {"data": {"name": "keytext"}, "transform": [{"filter": "datum.side == 'r'"}],
                      "mark": {"type": "text", "align": "left", "baseline": "middle", "font": "DejaVu Sans", "fontSize": 13, "color": "#222"},
                      "encoding": {"text": {"field": "t"}, "x": {"datum": 11}}}
                  ]
                }
              ]
            }
          ]
        }
      ]
    }
  ],
  "spacing": 16,
  "center": true
}
